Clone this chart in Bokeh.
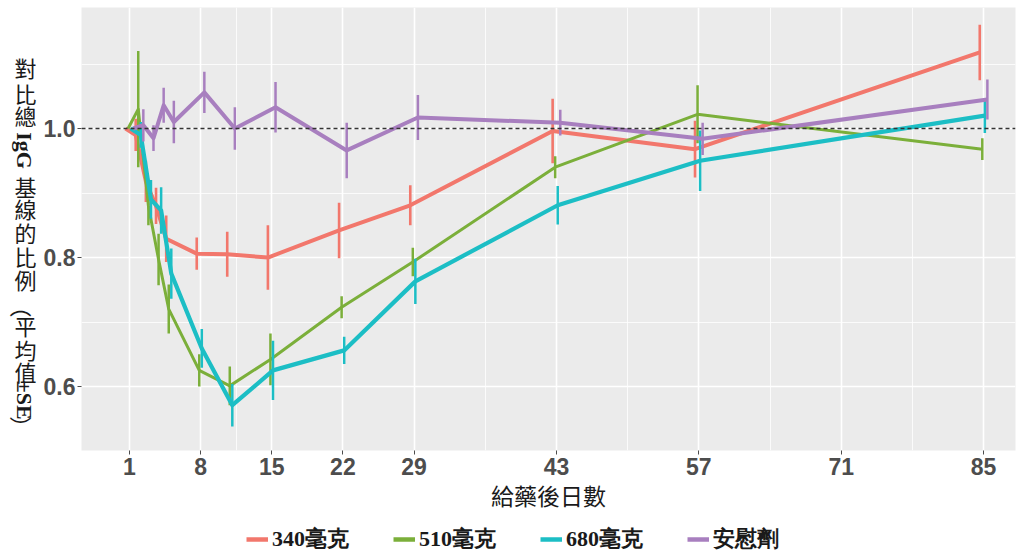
import math
from bokeh.plotting import figure
from bokeh.layouts import row, column
from bokeh.core.properties import value
from bokeh.models import (ColumnDataSource, FixedTicker, Span, Legend,
                          LegendItem, Range1d, CustomJSTickFormatter)
from bokeh.transform import dodge
from bokeh.embed import file_html
from bokeh.resources import INLINE

# ---------------- data ----------------
days = [1, 2, 3, 4, 5, 8, 11, 15, 22, 29, 43, 57, 85]
series_names = ["340毫克", "510毫克", "680毫克", "安慰劑"]

mean_340 = [1.0, 0.990, 0.918, 0.880, 0.829, 0.806, 0.805, 0.800, 0.842, 0.881, 0.996, 0.968, 1.118]
se_340 = [0.0, 0.025, 0.032, 0.028, 0.036, 0.025, 0.035, 0.050, 0.043, 0.031, 0.050, 0.044, 0.043]

mean_510 = [1.0, 1.030, 0.880, 0.797, 0.720, 0.625, 0.601, 0.642, 0.723, 0.793, 0.940, 1.022, 0.968]
se_510 = [0.0, 0.090, 0.030, 0.040, 0.038, 0.025, 0.030, 0.040, 0.017, 0.022, 0.017, 0.045, 0.017]

mean_680 = [1.0, 0.990, 0.890, 0.873, 0.775, 0.659, 0.571, 0.625, 0.656, 0.763, 0.881, 0.950, 1.020]
se_680 = [0.0, 0.020, 0.030, 0.036, 0.039, 0.030, 0.033, 0.046, 0.021, 0.035, 0.030, 0.047, 0.027]

mean_pbo = [1.0, 1.005, 0.985, 1.036, 1.010, 1.056, 1.000, 1.033, 0.966, 1.017, 1.009, 0.984, 1.045]
se_pbo = [0.0, 0.025, 0.020, 0.027, 0.033, 0.032, 0.033, 0.039, 0.043, 0.035, 0.020, 0.025, 0.031]

x_ticks = [1, 8, 15, 22, 29, 43, 57, 71, 85]
x_minor = [11.5, 36, 50, 64, 78]
y_ticks = [0.6, 0.8, 1.0]
y_minor = [0.5, 0.7, 0.9, 1.1]
x_title = "給藥後日數"
y_title_parts = ["對", "比", "總", "IgG", "基", "線", "的", "比", "例",
                 "（", "平", "均", "值", "±SE", "）"]

# ---------------- styles ----------------
colors = ["#F2776C", "#7BAF3A", "#1CBEC5", "#A87FBF"]
line_widths = [4.0, 3.0, 4.2, 4.0]
bar_widths = [2.6, 2.5, 2.5, 2.5]
offsets = [-0.375, -0.125, 0.125, 0.375]

MAIN_H = 520
LEFT_W = 40
y_rng = Range1d(0.5008, 1.1876)

p = figure(width=1018 - LEFT_W, height=MAIN_H, output_backend="svg",
           toolbar_location=None,
           x_range=Range1d(-3.705, 88.14), y_range=y_rng,
           min_border_left=78 - LEFT_W, min_border_right=3, min_border_top=7,
           min_border_bottom=MAIN_H - 450, title=None)
p.background_fill_color = "#EBEBEB"
p.border_fill_color = "white"
p.outline_line_color = None

p.xaxis.ticker = FixedTicker(ticks=x_ticks, minor_ticks=x_minor)
p.yaxis.ticker = FixedTicker(ticks=y_ticks, minor_ticks=y_minor)
p.yaxis.formatter = CustomJSTickFormatter(code="return tick.toFixed(1);")

for ax in (p.xaxis[0], p.yaxis[0]):
    ax.axis_line_color = None
    ax.major_tick_line_color = "#4D4D4D"
    ax.major_tick_line_width = 1
    ax.major_tick_out = 4
    ax.major_tick_in = 0
    ax.minor_tick_line_color = None
    ax.major_label_text_font = "Liberation Sans"
    ax.major_label_text_font_style = "bold"
    ax.major_label_text_font_size = "23px"
    ax.major_label_text_color = "#4D4D4D"
p.xaxis.major_label_standoff = 3
p.yaxis.major_label_standoff = 2

p.xaxis.axis_label = x_title
p.xaxis.axis_label_text_font = "Noto Sans CJK TC"
p.xaxis.axis_label_text_font_style = "normal"
p.xaxis.axis_label_text_font_size = "23px"
p.xaxis.axis_label_text_color = "#1A1A1A"
p.xaxis.axis_label_standoff = 0

for g in (p.xgrid[0], p.ygrid[0]):
    g.grid_line_color = "white"
    g.grid_line_width = 1.6
    g.minor_grid_line_color = "white"
    g.minor_grid_line_width = 0.8

p.add_layout(Span(location=1.0, dimension="width", line_color="#333333",
                  line_width=1.4, line_dash="4 3"))

means = [mean_340, mean_510, mean_680, mean_pbo]
ses = [se_340, se_510, se_680, se_pbo]
for i, name in enumerate(series_names):
    src = ColumnDataSource(dict(
        day=days, mean=means[i],
        lo=[m - s for m, s in zip(means[i], ses[i])],
        hi=[m + s for m, s in zip(means[i], ses[i])]))
    xd = dodge("day", offsets[i])
    p.line(x=xd, y="mean", source=src, line_color=colors[i],
           line_width=line_widths[i], line_join="round")
    p.segment(x0=xd, y0="lo", x1=xd, y1="hi", source=src,
              line_color=colors[i], line_width=bar_widths[i])

# ---------------- y-axis title (stacked vertical text) ----------------
left = figure(width=LEFT_W, height=MAIN_H, output_backend="svg",
              toolbar_location=None,
              x_range=Range1d(0, LEFT_W), y_range=y_rng,
              x_axis_location=None, y_axis_location=None,
              min_border_left=0, min_border_right=0, min_border_top=7,
              min_border_bottom=MAIN_H - 450, title=None)
left.grid.visible = False
left.outline_line_color = None
left.background_fill_color = "white"
ypos = [1.0946, 1.0558, 1.0202, 0.9659, 0.9116, 0.8760, 0.8388, 0.8031,
        0.7674, 0.7240, 0.6946, 0.6589, 0.6248, 0.5790, 0.5370]
latin_parts = ("IgG", "±SE")
rotated_cjk = ("（", "）")
groups = {"cjk_up": ([], [], 25), "cjk_rot": ([], [], 22), "latin_rot": ([], [], 24)}
for txt, yv in zip(y_title_parts, ypos):
    if txt in latin_parts:
        key = "latin_rot"
    elif txt in rotated_cjk:
        key = "cjk_rot"
    else:
        key = "cjk_up"
    groups[key][0].append(txt)
    groups[key][1].append(yv)
for key, (txts, ys, xc) in groups.items():
    latin = key == "latin_rot"
    rot = key != "cjk_up"
    src = ColumnDataSource(dict(t=txts, y=ys, x=[xc] * len(txts)))
    left.text(x="x", y="y", text="t", source=src,
              angle=-math.pi / 2 if rot else 0,
              text_align="center", text_baseline="middle",
              text_font=value("Liberation Serif" if latin else "Noto Sans CJK TC"),
              text_font_style="bold" if latin else "normal",
              text_font_size="22px", text_color="#1A1A1A")

# ---------------- legend strip ----------------
leg = figure(width=1018, height=555 - MAIN_H, output_backend="svg",
             toolbar_location=None, x_range=Range1d(0, 1), y_range=Range1d(0, 1),
             x_axis_location=None, y_axis_location=None, min_border=0, title=None)
leg.grid.visible = False
leg.outline_line_color = None
leg.background_fill_color = "white"
items = []
for i, name in enumerate(series_names):
    # key-only renderer placed outside the visible range of the legend strip
    r = leg.line(x=[-2, -1], y=[-2, -2], line_color=colors[i], line_width=4.5)
    items.append(LegendItem(label=name, renderers=[r]))
legend = Legend(items=items, orientation="horizontal", location=(246, 1),
                label_text_font="Liberation Serif", label_text_font_style="bold",
                label_text_font_size="22px", label_text_color="#1A1A1A",
                glyph_width=22, glyph_height=20, label_width=100, label_height=20,
                label_standoff=4, spacing=21, padding=0, margin=0,
                border_line_color=None, background_fill_alpha=0)
leg.add_layout(legend, "center")

layout = column(row(left, p), leg)
open("out.html", "w").write(file_html(layout, INLINE))
